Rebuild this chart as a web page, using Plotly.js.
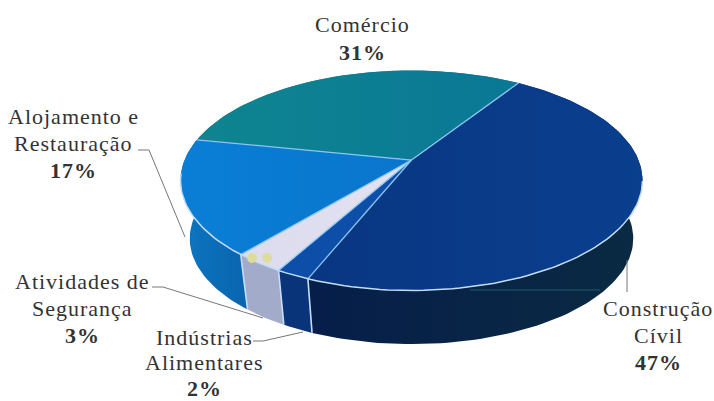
<!DOCTYPE html>
<html>
<head>
<meta charset="utf-8">
<script src="https://cdn.plot.ly/plotly-3.0.1.min.js"></script>
<style>html,body{margin:0;padding:0;background:#fff}#chart{width:714px;height:401px}
.annotation-text{letter-spacing:1px}</style>
</head>
<body>
<div id="chart"></div>
<script>
// Data
var categories = [['Construção', 'Cívil'], ['Indústrias', 'Alimentares'], ['Atividades de', 'Segurança'], ['Alojamento e', 'Restauração'], ['Comércio']];
var values = [47, 2, 3, 17, 31];

// Styles
var topColors = [
  ['#093682', '#0a3f8e'], ['#0c4ea8', '#0c4ea8'], ['#dcdcee', '#e4e2f2'],
  ['#0a7ed6', '#0976cc'], ['#0e8590', '#0a7896']
];
var sideColors = [
  ['#061e4a', '#0a2a42'], ['#0a347a', '#0a347a'], ['#a2abca', '#a2abca'],
  ['#0c76c0', '#0a64ae'], ['#0e8590', '#0a7896']
];
var labelTop = [308, 337, 281, 116, 24];
var labelX = [658, 204, 82, 73, 362];
var lineGaps = [27, 25.5, 27, 27, 28];
var leaders = [
  [[627, 260], [627, 292]],
  [[253, 341], [263, 341], [303, 332]],
  [[152, 287], [163, 287], [263, 318]],
  [[138, 150], [149, 150], [185, 237]]
];

// Projection of the tilted disc
var startDeg = 33, cx = 411.5, cy = 180.5, rx = 231, ry = 110, beta = 0.186;
var depth = 58, shrink = 0.96, frontFrom = 101, frontTo = 263;

function rim(deg, low) {
  var a = deg * Math.PI / 180, sx = Math.sin(a), sy = Math.cos(a);
  var d = 1 + beta * sy;
  var px = sx * Math.sqrt(1 - beta * beta) / d, py = (sy + beta) / d;
  return low ? [cx + rx * shrink * px, cy + depth - ry * shrink * py]
             : [cx + rx * px, cy - ry * py];
}
function arc(a0, a1, low) {
  var out = [], n = Math.max(2, Math.ceil((a1 - a0) / 1.5));
  for (var i = 0; i <= n; i++) out.push(rim(a0 + (a1 - a0) * i / n, low));
  return out;
}
function xs(p) { return p.map(function (q) { return q[0]; }); }
function ys(p) { return p.map(function (q) { return q[1]; }); }

var total = values.reduce(function (a, b) { return a + b; }, 0);
var apex = [cx, cy - ry * beta];
var sides = [], faces = [], dividers = [], spokes = [], angle = startDeg;

values.forEach(function (v, i) {
  var a0 = angle, a1 = angle + v / total * 360;
  angle = a1;
  var sidePts = arc(a0, a1, false).concat(arc(a0, a1, true).reverse());
  sides.push({
    x: xs(sidePts), y: ys(sidePts), mode: 'lines', fill: 'toself',
    line: {width: 0}, hoverinfo: 'skip', showlegend: false,
    fillgradient: {type: 'horizontal', colorscale: [[0, sideColors[i][0]], [1, sideColors[i][1]]]}
  });
  var e0 = rim(a0, false), e1 = rim(a0, true);
  dividers.push({
    x: [e0[0], e1[0]], y: [e0[1], e1[1]], mode: 'lines',
    line: {width: 1.6, color: '#c8dcf8'}, hoverinfo: 'skip', showlegend: false
  });
  var facePts = [apex].concat(arc(a0, a1, false)).concat([apex]);
  faces.push({
    x: xs(facePts), y: ys(facePts), mode: 'lines', fill: 'toself',
    line: {width: 0}, hoverinfo: 'skip', showlegend: false,
    fillgradient: {type: 'horizontal', colorscale: [[0, topColors[i][0]], [1, topColors[i][1]]]}
  });
  spokes.push({
    x: [apex[0], e0[0]], y: [apex[1], e0[1]], mode: 'lines',
    line: {width: 1.3, color: '#8cc4f0'}, hoverinfo: 'skip', showlegend: false
  });
});

var frontRim = arc(frontFrom, frontTo, false);
var rimTrace = {x: xs(frontRim), y: ys(frontRim), mode: 'lines',
  line: {width: 1.5, color: '#c4dcf4'}, hoverinfo: 'skip', showlegend: false};

var leaderTraces = leaders.map(function (p) {
  return {x: xs(p), y: ys(p), mode: 'lines', line: {width: 1, color: '#777'},
          hoverinfo: 'skip', showlegend: false};
});

var annotations = [];
categories.forEach(function (lines, i) {
  lines.concat(['<b>' + values[i] + '%</b>']).forEach(function (t, j) {
    annotations.push({
      text: t, x: labelX[i], y: labelTop[i] + j * lineGaps[i],
      xref: 'x', yref: 'y', xanchor: 'center', yanchor: 'middle', showarrow: false,
      font: {family: '"Liberation Serif", serif', size: 22, color: '#333'}
    });
  });
});

var layout = {
  width: 714, height: 401, margin: {l: 0, r: 0, t: 0, b: 0},
  paper_bgcolor: '#fff', plot_bgcolor: '#fff', showlegend: false,
  xaxis: {range: [0, 714], visible: false, fixedrange: true},
  yaxis: {range: [401, 0], visible: false, fixedrange: true},
  annotations: annotations,
  shapes: [
    {type: 'line', x0: 470, x1: 600, y0: 290, y1: 290, line: {width: 1, color: '#1b5f6e'}},
    {type: 'circle', x0: 247, x1: 257, y0: 253, y1: 263, fillcolor: '#dcdc9c', line: {width: 0}},
    {type: 'circle', x0: 262, x1: 272, y0: 253, y1: 263, fillcolor: '#dcdc9c', line: {width: 0}}
  ]
};

Plotly.newPlot('chart', sides.concat(dividers, faces, spokes, [rimTrace], leaderTraces), layout, {displayModeBar: false, staticPlot: true});
</script>
</body>
</html>
